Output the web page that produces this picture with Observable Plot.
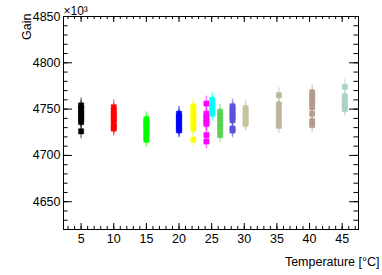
<!DOCTYPE html>
<html>
<head>
<meta charset="utf-8">
<script src="https://cdn.jsdelivr.net/npm/d3@7"></script>
<script src="https://cdn.jsdelivr.net/npm/@observablehq/plot@0.6"></script>
<style>
  html, body { margin: 0; padding: 0; background: #fff; }
  #chart { width: 382px; height: 275px; }
</style>
</head>
<body>
<div id="chart"></div>
<script>
// Temperatures (°C) of each measurement group
const temperatures = [5, 10, 15, 20, 22.2, 24.2, 25.1, 26.3, 28.2, 30.2, 35.3, 40.4, 45.4];
const colors = ["#000000", "#ff0000", "#00ff00", "#0000ff", "#ffff00", "#ff00ff", "#00ffff",
                "#59d354", "#5954d8", "#c8c4a2", "#bbb69c", "#b39a8c", "#a9d3c7"];
// Gain values (x10^3) per group
const gain05 = [4754, 4751, 4748, 4745, 4742, 4739, 4736, 4726];
const gain10 = [4752, 4748, 4745, 4742, 4739, 4735, 4731, 4729];
const gain15 = [4739, 4736, 4733, 4730, 4727, 4723, 4720, 4717];
const gain20 = [4745, 4742, 4740, 4737, 4735, 4732, 4729, 4727];
const gain22 = [4753, 4750, 4746, 4743, 4740, 4736, 4732, 4729, 4717];
const gain24 = [4756, 4745, 4742, 4739, 4736, 4734, 4722, 4715];
const gain25 = [4760, 4757, 4754, 4751, 4748, 4745];
const gain26 = [4747, 4743, 4739, 4735, 4731, 4727, 4722];
const gain28 = [4753, 4750, 4747, 4744, 4741, 4738, 4729, 4727];
const gain30 = [4751, 4748, 4745, 4742, 4739, 4736, 4734];
const gain35 = [4765, 4755, 4750, 4745, 4740, 4736, 4732];
const gain40 = [4768, 4764, 4760, 4756, 4752, 4745, 4737, 4733];
const gain45 = [4774, 4764, 4760, 4757, 4753, 4750];
const gainError = 8;
const seriesValues = [gain05, gain10, gain15, gain20, gain22, gain24, gain25, gain26, gain28, gain30, gain35, gain40, gain45];
const xTicks = [5, 10, 15, 20, 25, 30, 35, 40, 45];
const yTicks = [4650, 4700, 4750, 4800, 4850];

const rows = [];
seriesValues.forEach((vals, i) => vals.forEach(v => rows.push({t: temperatures[i], g: v, c: colors[i]})));

const xDom = [2.3, 47.5], yDom = [4620, 4850];
const xMinor = d3.range(3, 48, 1);
const yMinor = d3.range(4620, 4851, 10);
// tick lengths expressed in data units
const yMajLen = 1.38, yMinLen = 0.7, xMajLen = 6.5, xMinLen = 3.3;

const font = "Liberation Sans, Arial, Helvetica, sans-serif";
const plot = Plot.plot({
  width: 382, height: 275,
  marginLeft: 63, marginRight: 24, marginTop: 16, marginBottom: 46,
  style: {fontFamily: font, fontSize: "12px", color: "#000", background: "#fff"},
  x: {domain: xDom},
  y: {domain: yDom},
  marks: [
    // error bars
    Plot.ruleX(rows, {x: "t", y1: d => d.g - gainError, y2: d => d.g + gainError, stroke: "c", strokeOpacity: 0.5, strokeWidth: 1.5}),
    Plot.dot(rows, {x: "t", y: "g", symbol: "square", r: 3, fill: "c", stroke: "c", strokeOpacity: 0.4, strokeWidth: 1}),
    // inward ticks (bottom/top)
    Plot.ruleX(xMinor, {x: d => d, y1: yDom[0], y2: yDom[0] + xMinLen, stroke: "#000"}),
    Plot.ruleX(xTicks, {x: d => d, y1: yDom[0], y2: yDom[0] + xMajLen, stroke: "#000"}),
    Plot.ruleX(xMinor, {x: d => d, y1: yDom[1], y2: yDom[1] - xMinLen, stroke: "#000"}),
    Plot.ruleX(xTicks, {x: d => d, y1: yDom[1], y2: yDom[1] - xMajLen, stroke: "#000"}),
    // inward ticks (left/right)
    Plot.ruleY(yMinor, {y: d => d, x1: xDom[0], x2: xDom[0] + yMinLen, stroke: "#000"}),
    Plot.ruleY(yTicks, {y: d => d, x1: xDom[0], x2: xDom[0] + yMajLen, stroke: "#000"}),
    Plot.ruleY(yMinor, {y: d => d, x1: xDom[1], x2: xDom[1] - yMinLen, stroke: "#000"}),
    Plot.ruleY(yTicks, {y: d => d, x1: xDom[1], x2: xDom[1] - yMajLen, stroke: "#000"}),
    Plot.axisX({ticks: xTicks, tickSize: 0, tickPadding: 5, tickFormat: d => String(d), fontSize: 12.5,
      label: "Temperature [°C]", labelAnchor: "right", labelArrow: false, labelOffset: 36}),
    Plot.axisY({ticks: yTicks, tickSize: 0, tickPadding: 3, tickFormat: d => String(d), fontSize: 12.5, label: null}),
    Plot.text(["Gain"], {frameAnchor: "top-left", text: d => d, rotate: -90, textAnchor: "end", dx: -41, dy: -3, fontSize: 12.5}),
    Plot.text(["×10³"], {frameAnchor: "top-left", text: d => d, dy: -10, dx: 0, textAnchor: "start", fontSize: 12}),
    Plot.frame({stroke: "#000"})
  ]
});
document.getElementById("chart").appendChild(plot);
</script>
</body>
</html>
